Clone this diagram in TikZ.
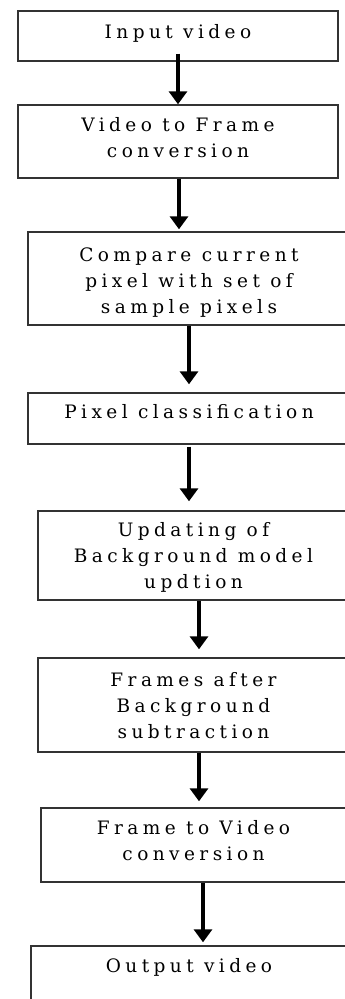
\documentclass[tikz,border=0pt]{standalone}
\usepackage{fontspec}
\setmainfont{DejaVu Serif}[LetterSpace=24]
\usetikzlibrary{arrows.meta}
\begin{document}
\begin{tikzpicture}[x=1pt,y=1pt,
  flowbox/.style={draw=black!80, line width=1.4pt, rectangle, align=center,
    inner sep=0pt, text depth=0pt, font=\fontsize{18.5}{26}\selectfont},
  flowarrow/.style={line width=4pt, -{Triangle[width=18pt,length=13pt]}}]
\useasboundingbox (0,0) rectangle (345,-999);
\node[flowbox, minimum width=320pt, minimum height=50pt, text height=4pt] (b1) at (178,-36) {Input video};
\node[flowbox, minimum width=320pt, minimum height=73pt, text height=31pt] (b2) at (178,-141.5) {Video to Frame\\conversion};
\node[flowbox, minimum width=322pt, minimum height=93pt, text height=69pt] (b3) at (189,-278.5) {Compare current\\pixel with set of\\sample pixels};
\node[flowbox, minimum width=322pt, minimum height=51pt, text height=0pt, text depth=1pt] (b4) at (189,-418.5) {Pixel classification};
\node[flowbox, minimum width=311pt, minimum height=89pt, text height=65pt] (b5) at (193.5,-555.5) {Updating of\\Background model\\updtion};
\node[flowbox, minimum width=311pt, minimum height=94pt, text height=66pt] (b6) at (193.5,-705) {Frames after\\Background\\subtraction};
\node[flowbox, minimum width=305pt, minimum height=74pt, text height=30pt] (b7) at (193.5,-845) {Frame to Video\\conversion};
\node[flowbox, minimum width=316pt, minimum height=56pt, text height=0pt, text depth=4pt] (b8) at (189,-974) {Output video};
\coordinate (xa) at (178,0);
\coordinate (xb) at (179,0);
\coordinate (xc) at (189,0);
\coordinate (xd) at (199,0);
\coordinate (xe) at (203,0);
\draw[flowarrow, shorten <=-8pt] (b1.south -| xa) -- (b2.north -| xa);
\draw[flowarrow, shorten >=2pt] (b2.south -| xb) -- (b3.north -| xb);
\draw[flowarrow, shorten >=8pt] (b3.south -| xc) -- (b4.north -| xc);
\draw[flowarrow, shorten <=2pt, shorten >=9pt] (b4.south -| xc) -- (b5.north -| xc);
\draw[flowarrow, shorten >=8pt] (b5.south -| xd) -- (b6.north -| xd);
\draw[flowarrow, shorten >=6pt] (b6.south -| xd) -- (b7.north -| xd);
\draw[flowarrow, shorten >=3pt] (b7.south -| xe) -- (b8.north -| xe);
\end{tikzpicture}
\end{document}
